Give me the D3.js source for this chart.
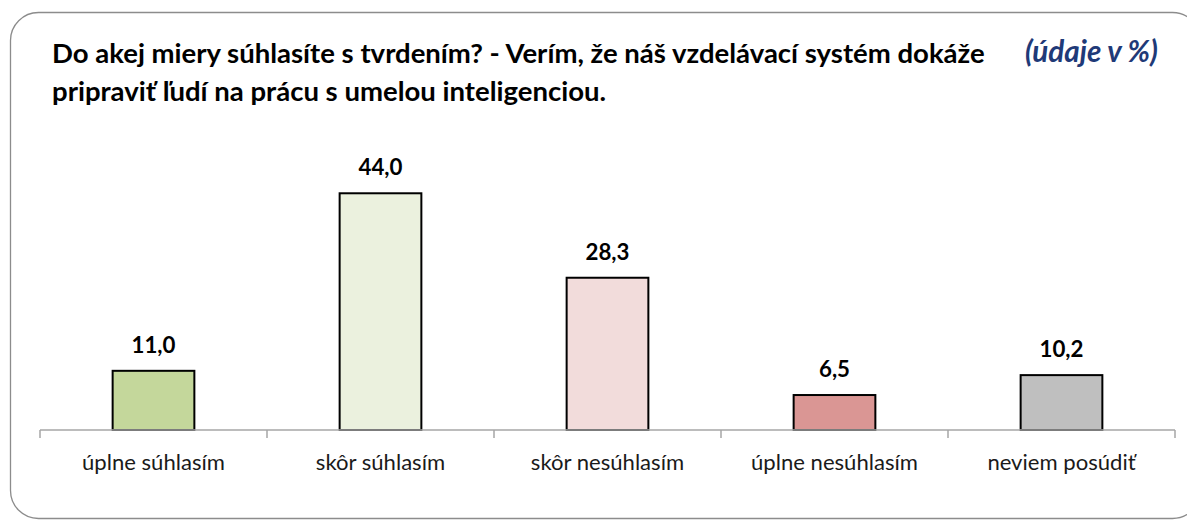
<!DOCTYPE html>
<html>
<head>
<meta charset="utf-8">
<script src="https://cdn.jsdelivr.net/npm/d3@7"></script>
<style>
  html, body { margin: 0; padding: 0; background: #fff; }
  svg { display: block; }
</style>
</head>
<body>
<div id="chart"></div>
<script>
// categories and values (in %)
const categories = ['úplne súhlasím', 'skôr súhlasím', 'skôr nesúhlasím', 'úplne nesúhlasím', 'neviem posúdiť'];
const values = [11.0, 44.0, 28.3, 6.5, 10.2];
const colors = ['#c4d79b', '#ebf1de', '#f2dcdb', '#da9694', '#bfbfbf'];

const titleLines = [
    'Do akej miery súhlasíte s tvrdením? - Verím, že náš vzdelávací systém dokáže',
    'pripraviť ľudí na prácu s umelou inteligenciou.'
];
const subtitle = '(údaje v %)';

const W = 1187, H = 520;
const fontFamily = 'Lato, "Open Sans", sans-serif';

// plot area
const margin = { left: 40, right: 12 }
    , axisY = 430
    , plotTop = 161;

const svg = d3.select('#chart').append('svg')
    .attr('width', W)
    .attr('height', H);

// rounded frame
svg.append('rect')
    .attr('x', 10.5)
    .attr('y', 12.5)
    .attr('width', 1190)
    .attr('height', 506)
    .attr('rx', 28)
    .attr('fill', '#fff')
    .attr('stroke', '#8c8c8c')
    .attr('stroke-width', 1.3);

// x scale - one band per category
const xScale = d3.scaleBand()
    .domain(categories)
    .range([margin.left, W - margin.right])
    .paddingInner(0.64)
    .paddingOuter(0.32);

// y scale
const yScale = d3.scaleLinear()
    .domain([0, 50])
    .range([axisY, plotTop]);

const fmt = v => d3.format('.1f')(v).replace('.', ',');

// font size that makes a text node the given width
function fitSize(node, width) {
    const w = node.getComputedTextLength();
    const fs = parseFloat(node.getAttribute('font-size'));
    return (fs * width / w).toFixed(2);
}

// title
const title = svg.append('g').attr('class', 'title');
title.selectAll('text')
    .data(titleLines)
    .enter().append('text')
    .attr('x', 52)
    .attr('y', (d, i) => 63 + i * 38)
    .attr('font-family', fontFamily)
    .attr('font-weight', 'bold')
    .attr('font-size', 21)
    .attr('fill', '#000')
    .text(d => d);
title.selectAll('text').attr('font-size', fitSize(title.select('text').node(), 933));

const sub = svg.append('text')
    .attr('x', 1158)
    .attr('y', 62)
    .attr('text-anchor', 'end')
    .attr('font-family', fontFamily)
    .attr('font-weight', 'bold')
    .attr('font-style', 'italic')
    .attr('font-size', 21)
    .attr('fill', '#1f3a78')
    .text(subtitle);
sub.attr('font-size', fitSize(sub.node(), 133));

// bars
svg.append('g').attr('class', 'bars')
    .selectAll('rect')
    .data(values)
    .enter().append('rect')
    .attr('x', (d, i) => xScale(categories[i]))
    .attr('y', d => yScale(d))
    .attr('width', xScale.bandwidth())
    .attr('height', d => axisY - yScale(d))
    .attr('fill', (d, i) => colors[i])
    .attr('stroke', '#000')
    .attr('stroke-width', 2);

// value labels
const labels = svg.append('g').attr('class', 'labels')
    .selectAll('text')
    .data(values)
    .enter().append('text')
    .attr('x', (d, i) => xScale(categories[i]) + xScale.bandwidth() / 2)
    .attr('y', d => yScale(d) - 18)
    .attr('text-anchor', 'middle')
    .attr('font-family', fontFamily)
    .attr('font-weight', 'bold')
    .attr('font-size', 19)
    .attr('fill', '#000')
    .text(d => fmt(d));
labels.attr('font-size', fitSize(labels.nodes()[1], 44));

// x axis: baseline with ticks between categories
const step = (W - margin.right - margin.left) / categories.length;
const axis = svg.append('g').attr('class', 'x axis');
axis.append('line')
    .attr('x1', margin.left).attr('x2', W - margin.right)
    .attr('y1', axisY).attr('y2', axisY)
    .attr('stroke', '#a6a6a6')
    .attr('stroke-width', 1.5);
axis.selectAll('.tick')
    .data(d3.range(categories.length + 1))
    .enter().append('line')
    .attr('class', 'tick')
    .attr('x1', i => margin.left + i * step)
    .attr('x2', i => margin.left + i * step)
    .attr('y1', axisY)
    .attr('y2', axisY + 8)
    .attr('stroke', '#a6a6a6')
    .attr('stroke-width', 1.5);

const cats = axis.selectAll('.cat')
    .data(categories)
    .enter().append('text')
    .attr('class', 'cat')
    .attr('x', d => xScale(d) + xScale.bandwidth() / 2)
    .attr('y', 470)
    .attr('text-anchor', 'middle')
    .attr('font-family', fontFamily)
    .attr('font-size', 19)
    .attr('fill', '#1a1a1a')
    .text(d => d);
cats.attr('font-size', fitSize(cats.nodes()[0], 143));
</script>
</body>
</html>
